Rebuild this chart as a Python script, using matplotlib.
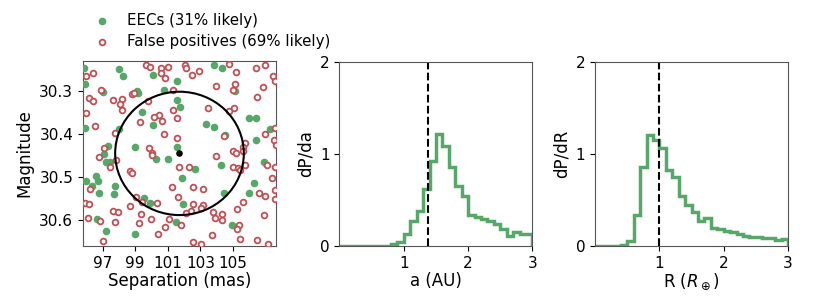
import numpy as np
import matplotlib
matplotlib.use("Agg")
import matplotlib.pyplot as plt
from matplotlib.patches import Ellipse

GREEN = "#55a868"
RED = "#c44e52"

# ── Left panel: candidate positions ──
eec_sep = [95.83, 95.93, 98.03, 98.25, 100.10, 101.55, 97.00, 99.11, 99.19, 100.79,
           101.55, 101.76, 99.42, 100.08, 95.93, 97.98, 101.57, 97.33, 99.01, 103.87,
           104.32, 105.14, 105.96, 106.44, 103.34, 103.87, 107.28, 104.53, 106.42, 97.10,
           97.23, 97.47, 100.30, 101.02, 96.59, 95.99, 96.69, 96.34, 96.75, 97.74,
           97.68, 99.52, 99.93, 101.53, 96.65, 97.23, 99.01, 102.68, 104.28, 106.89,
           101.86, 106.27, 104.43, 106.01, 101.96, 104.94]
eec_mag = [30.247, 30.284, 30.249, 30.266, 30.264, 30.276, 30.303, 30.301, 30.305, 30.299,
           30.321, 30.338, 30.349, 30.378, 30.387, 30.389, 30.430, 30.428, 30.430, 30.241,
           30.248, 30.301, 30.364, 30.362, 30.376, 30.383, 30.388, 30.403, 30.413, 30.447,
           30.464, 30.466, 30.458, 30.458, 30.497, 30.509, 30.510, 30.521, 30.537, 30.521,
           30.539, 30.549, 30.561, 30.603, 30.598, 30.626, 30.632, 30.481, 30.473, 30.464,
           30.501, 30.514, 30.537, 30.537, 30.562, 30.612]

fp_sep = [96.38, 95.99, 99.67, 99.93, 100.59, 101.02, 100.61, 100.82, 96.92, 98.81,
          98.95, 96.14, 96.41, 97.62, 98.17, 98.09, 98.17, 99.81, 101.31, 101.35,
          95.95, 100.49, 100.18, 100.65, 99.32, 101.57, 96.55, 97.74, 100.79, 101.57,
          99.83, 100.04, 97.10,
          102.03, 102.11, 102.48, 102.93, 104.79, 105.18, 106.44, 106.99, 107.46, 107.56,
          103.97, 105.14, 105.00, 106.83, 106.48, 103.50, 105.08, 104.73, 107.56, 104.43,
          106.99, 107.50, 105.76, 105.62, 105.00, 105.60, 107.62,
          96.75, 97.43, 97.84, 100.04, 98.70, 98.81, 101.27, 101.62, 99.07, 99.42,
          100.34, 95.93, 96.18, 98.66, 97.64, 97.92, 99.36, 99.99, 99.22, 101.06,
          96.82, 97.78, 100.82, 100.41, 97.00, 96.20, 96.08, 101.67,
          103.95, 105.18, 102.33, 104.98, 105.29, 105.41, 105.72, 107.09, 107.61, 107.40,
          102.58, 103.15, 106.58, 106.99, 107.61, 102.58, 103.19, 103.05, 105.60, 105.25,
          103.77, 102.44, 102.11, 104.34, 103.91, 104.32, 106.89, 105.35, 105.25, 101.82,
          103.71, 105.41, 106.48, 102.52, 103.05, 107.15, 107.56]
fp_mag = [30.258, 30.266, 30.241, 30.245, 30.248, 30.244, 30.258, 30.270, 30.299, 30.308,
          30.304, 30.316, 30.324, 30.322, 30.318, 30.330, 30.345, 30.324, 30.298, 30.344,
          30.351, 30.355, 30.361, 30.369, 30.372, 30.364, 30.382, 30.397, 30.399, 30.410,
          30.432, 30.443, 30.433,
          30.239, 30.247, 30.264, 30.255, 30.238, 30.257, 30.247, 30.239, 30.266, 30.276,
          30.289, 30.285, 30.299, 30.292, 30.315, 30.339, 30.339, 30.347, 30.386, 30.405,
          30.401, 30.413, 30.420, 30.430, 30.440, 30.440, 30.426,
          30.453, 30.476, 30.460, 30.449, 30.485, 30.491, 30.524, 30.545, 30.545, 30.557,
          30.561, 30.561, 30.563, 30.567, 30.578, 30.581, 30.586, 30.598, 30.607, 30.597,
          30.601, 30.605, 30.615, 30.632, 30.647, 30.527, 30.595, 30.476,
          30.450, 30.443, 30.476, 30.476, 30.478, 30.484, 30.472, 30.473, 30.476, 30.501,
          30.524, 30.527, 30.537, 30.543, 30.551, 30.562, 30.564, 30.571, 30.558, 30.574,
          30.580, 30.578, 30.584, 30.586, 30.595, 30.599, 30.588, 30.612, 30.620, 30.611,
          30.635, 30.643, 30.645, 30.651, 30.655, 30.654, 30.529]

target_sep, target_mag = 101.72, 30.445
circle_dsep, circle_dmag = 3.95, 0.143

# ── Histograms (bin width 0.1 from 0 to 3) ──
bin_edges = np.round(np.arange(0, 3.01, 0.1), 2)
dP_da = [0, 0, 0, 0, 0, 0, 0, 0, 0.02, 0.04,
         0.13, 0.27, 0.38, 0.62, 0.92, 1.22, 1.09, 0.855, 0.655, 0.54,
         0.34, 0.31, 0.29, 0.275, 0.24, 0.185, 0.11, 0.15, 0.13, 0.13]
dP_dR = [0, 0, 0, 0, 0.015, 0.05, 0.34, 0.855, 1.21, 1.15,
         1.06, 0.83, 0.75, 0.54, 0.45, 0.37, 0.275, 0.30, 0.20, 0.18,
         0.165, 0.15, 0.13, 0.11, 0.095, 0.10, 0.085, 0.09, 0.06, 0.07]
a_mark = 1.37
R_mark = 1.0

fig = plt.figure(figsize=(8.3, 2.97), dpi=100)
ax1 = fig.add_axes([0.100, 0.172, 0.2325, 0.623])
ax2 = fig.add_axes([0.409, 0.172, 0.2325, 0.619])
ax3 = fig.add_axes([0.717, 0.172, 0.2325, 0.619])

# ── Panel 1: sky scatter ──
ax1.scatter(eec_sep, eec_mag, s=20, color=GREEN, label="EECs (31% likely)", zorder=3)
ax1.scatter(fp_sep, fp_mag, s=17, facecolors="white", edgecolors=RED, linewidths=1.3,
            label="False positives (69% likely)", zorder=3)
ax1.add_patch(Ellipse((target_sep, target_mag), 2 * circle_dsep, 2 * circle_dmag,
                      fill=False, color="black", lw=1.5, zorder=4))
ax1.scatter([target_sep], [target_mag], s=14, color="black", zorder=5)
ax1.set_xlim(target_sep - 1.5 * circle_dsep, target_sep + 1.5 * circle_dsep)
ax1.set_ylim(target_mag + 1.5 * circle_dmag, target_mag - 1.5 * circle_dmag)
ax1.set_xticks([97, 99, 101, 103, 105])
ax1.set_yticks([30.3, 30.4, 30.5, 30.6])
ax1.set_xlabel("Separation (mas)", fontsize=12, labelpad=1)
ax1.set_ylabel("Magnitude", fontsize=12)
ax1.tick_params(labelsize=11)
fig.legend(loc="upper left", bbox_to_anchor=(0.097, 0.975), frameon=False,
           fontsize=10.8, scatterpoints=1, borderaxespad=0, labelspacing=0.35,
           handletextpad=0.7)

# ── Panel 2: semi-major axis ──
ax2.stairs(dP_da, bin_edges, color=GREEN, lw=2.5)
ax2.axvline(a_mark, color="black", ls="--", lw=1.5)
ax2.set_xlim(0, 3)
ax2.set_ylim(0, 2)
ax2.set_xticks([1, 2, 3])
ax2.set_yticks([0, 1, 2])
ax2.set_xlabel("a (AU)", fontsize=12, labelpad=1)
ax2.set_ylabel("dP/da", fontsize=12)
ax2.tick_params(labelsize=11)

# ── Panel 3: radius ──
ax3.stairs(dP_dR, bin_edges, color=GREEN, lw=2.5)
ax3.axvline(R_mark, color="black", ls="--", lw=1.5)
ax3.set_xlim(0, 3)
ax3.set_ylim(0, 2)
ax3.set_xticks([1, 2, 3])
ax3.set_yticks([0, 1, 2])
ax3.set_xlabel(r"R ($R_\oplus$)", fontsize=12, labelpad=1)
ax3.set_ylabel("dP/dR", fontsize=12)
ax3.tick_params(labelsize=11)

for ax in (ax1, ax2, ax3):
    for sp in ax.spines.values():
        sp.set_color("#555555")

plt.savefig("out.png", dpi=100)
